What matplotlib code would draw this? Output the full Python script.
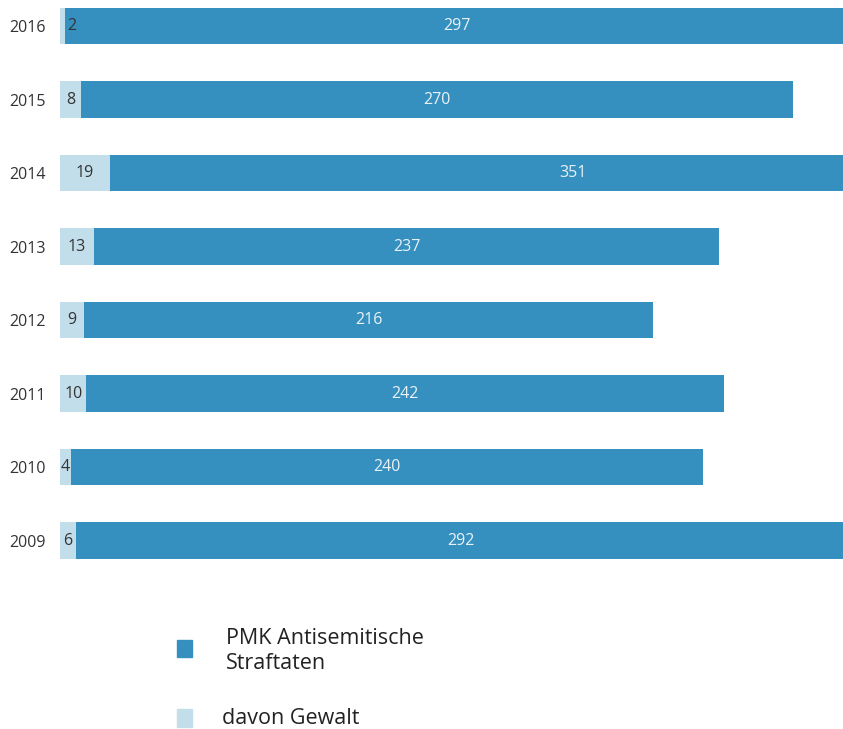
import matplotlib.pyplot as plt
from matplotlib.patches import Rectangle

years = ['2009', '2010', '2011', '2012', '2013', '2014', '2015', '2016']
gewalt = [6, 4, 10, 9, 13, 19, 8, 2]
straftaten = [292, 240, 242, 216, 237, 351, 270, 297]

dark = '#3590c0'
light = '#c2deeb'

plt.rcParams['font.family'] = ['Open Sans', 'DejaVu Sans']

fig = plt.figure(figsize=(8.43, 7.29), dpi=100)
# axes from x=60px to right edge, y=0px to 580px
ax = fig.add_axes([60 / 843, 1 - 580 / 729, 1 - 60 / 843, 580 / 729])

y = list(range(len(years)))
ax.barh(y, gewalt, height=0.5, color=light)
ax.barh(y, straftaten, left=gewalt, height=0.5, color=dark)

for i in y:
    g = gewalt[i]
    s = straftaten[i]
    # too narrow segments get their label just right of the segment
    gx = g / 2 if g >= 4 else g + 2.5
    ax.text(gx, i, str(g), ha='center', va='center',
            fontsize=11.5, color='#333333')
    ax.text(g + s / 2, i, str(s), ha='center', va='center',
            fontsize=11.5, color='#eaf2f7')

ax.set_xlim(0, 297)
ax.set_ylim(-0.537, 7.354)
ax.set_yticks(y)
ax.set_yticklabels(years, fontsize=11.5, color='#333333')
ax.tick_params(axis='y', length=0, pad=10)
ax.set_xticks([])
for sp in ax.spines.values():
    sp.set_visible(False)

# legend
W, H = 843, 729
fig.patches.append(Rectangle((177 / W, 1 - 657 / H), 15 / W, 17 / H,
                             transform=fig.transFigure, color=dark))
fig.patches.append(Rectangle((177 / W, 1 - 727 / H), 15 / W, 18 / H,
                             transform=fig.transFigure, color=light))
fig.text(226 / W, 1 - 651 / H, 'PMK Antisemitische\nStraftaten', fontsize=15.5,
         va='center', ha='left', color='#222222', linespacing=1.2)
fig.text(222 / W, 1 - 718 / H, 'davon Gewalt', fontsize=15.5,
         va='center', ha='left', color='#222222')

fig.savefig('out.png', dpi=100)
